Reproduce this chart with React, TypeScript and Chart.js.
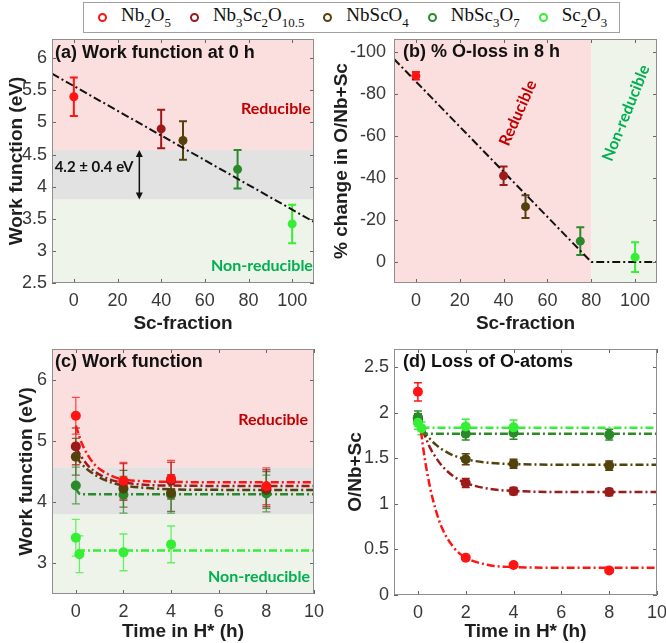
import React, { useEffect, useRef } from "react";
import { Chart, registerables } from "chart.js";
Chart.register(...registerables);

// ---------------- data ----------------
const legendParts: string[][] = [
  ["Nb", "2", "O", "5"],
  ["Nb", "3", "Sc", "2", "O", "10.5"],
  ["NbScO", "4"],
  ["NbSc", "3", "O", "7"],
  ["Sc", "2", "O", "3"],
];
const seriesColors = ["#ff1414", "#9c1a1a", "#52430c", "#2a8a2a", "#35ef35"];

// (a) work function at 0 h vs Sc-fraction
const scFraction = [0, 40, 50, 75, 100];
const workFn0h = [5.4, 4.9, 4.72, 4.27, 3.42];
const workFn0hErr = [0.3, 0.3, 0.3, 0.3, 0.3];
const trendAX = [-10, 110];
const trendAY = [5.76, 3.45];
const ticksAX = [0, 20, 40, 60, 80, 100];
const ticksAY = [2.5, 3, 3.5, 4, 4.5, 5, 5.5, 6];
const rangeAX = [-10, 110];
const rangeAY = [2.5, 6.3];

// (b) % O-loss in 8 h
const oLoss8h = [-88.5, -41, -26.3, -9.9, -2.3];
const oLoss8hErr = [1.8, 4.4, 5.4, 6.6, 7.1];
const trendBX = [-10, 80, 110];
const trendBY = [-96.5, 0, 0];
const ticksBY = [-100, -80, -60, -40, -20, 0];
const rangeBY = [-106, 10];
const reducibleLimitSc = 80;

// band of the 4.2 ± 0.4 eV window
const greyBand = [3.8, 4.57];

// (c) work function vs time
const hours = [0, 2, 4, 8];
const hoursSc2O3 = [0, 0.15, 2, 4];
const wfNb2O5 = [5.41, 4.35, 4.38, 4.26];
const wfNb3Sc2O105 = [4.91, 4.33, 4.35, 4.23];
const wfNbScO4 = [4.74, 4.22, 4.15, 4.2];
const wfNbSc3O7 = [4.27, 4.12, 4.12, 4.14];
const wfSc2O3 = [3.42, 3.15, 3.18, 3.31];
const wfErr = [0.3, 0.3, 0.3, 0.3];
const fitTimeC = [0, 0.25, 0.5, 0.75, 1, 1.5, 2, 3, 4, 6, 10];
const fitWfNb2O5 = [5.25, 4.96, 4.77, 4.63, 4.54, 4.43, 4.37, 4.34, 4.33, 4.325, 4.325];
const fitWfNb3Sc2O105 = [4.89, 4.73, 4.6, 4.51, 4.45, 4.36, 4.32, 4.28, 4.27, 4.265, 4.265];
const fitWfNbScO4 = [4.74, 4.62, 4.53, 4.46, 4.4, 4.32, 4.27, 4.23, 4.21, 4.2, 4.2];
const fitTimeNbSc3O7C = [0, 0.1, 0.2, 10];
const fitWfNbSc3O7 = [4.24, 4.16, 4.13, 4.13];
const fitTimeSc2O3C = [0.05, 10];
const fitWfSc2O3 = [3.21, 3.21];
const ticksCX = [0, 2, 4, 6, 8, 10];
const ticksCY = [3, 4, 5, 6];
const rangeCX = [-1, 10];
const rangeCY = [2.5, 6.5];

// (d) O/Nb+Sc vs time
const oNb2O5 = [2.23, 0.41, 0.33, 0.27];
const oNb2O5Err = [0.1, 0.02, 0.02, 0.02];
const oNb3Sc2O105 = [1.92, 1.23, 1.14, 1.13];
const oNb3Sc2O105Err = [0.05, 0.05, 0.04, 0.04];
const oNbScO4 = [1.94, 1.49, 1.44, 1.42];
const oNbScO4Err = [0.05, 0.06, 0.05, 0.05];
const oNbSc3O7 = [1.95, 1.77, 1.78, 1.76];
const oNbSc3O7Err = [0.07, 0.07, 0.07, 0.06];
const oSc2O3 = [1.89, 1.83, 1.85, 1.84];
const oSc2O3Err = [0.07, 0.07, 0.08, 0.08];
const fitTimeRedD = [0.05, 0.25, 0.5, 0.75, 1, 1.5, 2, 3, 4, 6, 10];
const fitONb2O5 = [1.97, 1.56, 1.19, 0.93, 0.74, 0.52, 0.41, 0.327, 0.307, 0.3, 0.3];
const fitTimeD = [0.2, 0.5, 0.75, 1, 1.5, 2, 3, 4, 6, 10];
const fitONb3Sc2O105 = [1.81, 1.62, 1.51, 1.42, 1.3, 1.23, 1.165, 1.142, 1.131, 1.13];
const fitONbScO4 = [1.82, 1.715, 1.65, 1.6, 1.53, 1.49, 1.45, 1.437, 1.43, 1.43];
const fitTimeNbSc3O7D = [0.15, 0.3, 10];
const fitONbSc3O7 = [1.81, 1.77, 1.77];
const fitTimeSc2O3D = [0.15, 10];
const fitOSc2O3 = [1.835, 1.835];
const ticksDY = [0, 0.5, 1, 1.5, 2, 2.5];
const rangeDY = [0, 2.7];

// ---------------- styling ----------------
const SANS = '"Liberation Sans", Arial, sans-serif';
const PINK = "#fbdede";
const GREY = "#e2e2e2";
const LGREEN = "#eef4e9";
const RED_TXT = "#c00000";
const GRN_TXT = "#00b050";
const DASH = [8, 3, 2, 3];

const pts = (xs: number[], ys: number[]) => xs.map((x, i) => ({ x, y: ys[i] }));
const alpha = (hex: string, a: string) => hex + a;

function axis(o: any) {
  return {
    type: "linear",
    min: o.min,
    max: o.max,
    reverse: !!o.reverse,
    afterBuildTicks: (s: any) => {
      s.ticks = o.ticks.map((v: number) => ({ value: v }));
    },
    afterFit: (s: any) => {
      if (o.isX) s.height = o.size;
      else s.width = o.size;
      s.paddingLeft = 0;
      s.paddingRight = 0;
      s.paddingTop = 0;
      s.paddingBottom = 0;
    },
    grid: { display: false, drawTicks: false },
    border: { display: false },
    ticks: {
      font: { family: SANS, size: 18 },
      color: "#383838",
      padding: o.tickPad,
      autoSkip: false,
      maxRotation: 0,
      minRotation: 0,
      callback: (v: any) => String(v),
    },
    title: {
      display: true,
      text: o.title,
      font: { family: SANS, size: 19, weight: "bold" },
      color: "#1e1e1e",
      padding: o.isX ? { top: 0, bottom: o.titlePad } : { top: o.titlePad, bottom: 0 },
    },
  };
}

function deco(cfg: any) {
  return {
    id: "deco",
    beforeDraw(chart: any) {
      const { ctx, chartArea: ca, scales } = chart;
      ctx.save();
      ctx.beginPath();
      ctx.rect(ca.left, ca.top, ca.width, ca.height);
      ctx.clip();
      ctx.fillStyle = "#ffffff";
      ctx.fillRect(ca.left, ca.top, ca.width, ca.height);
      for (const b of cfg.bands || []) {
        const s = scales[b.axis];
        const p1 = s.getPixelForValue(b.from);
        const p2 = s.getPixelForValue(b.to);
        ctx.fillStyle = b.color;
        if (b.axis === "y") ctx.fillRect(ca.left, Math.min(p1, p2), ca.width, Math.abs(p2 - p1));
        else ctx.fillRect(Math.min(p1, p2), ca.top, Math.abs(p2 - p1), ca.height);
      }
      ctx.restore();
    },
    beforeDatasetsDraw(chart: any) {
      const { ctx, scales } = chart;
      const ys = scales.y;
      chart.data.datasets.forEach((ds: any, di: number) => {
        if (!ds.errors) return;
        const meta = chart.getDatasetMeta(di);
        meta.data.forEach((el: any, i: number) => {
          const v = ds.data[i].y;
          const e = ds.errors[i];
          const yT = ys.getPixelForValue(v + e);
          const yB = ys.getPixelForValue(v - e);
          const c = Array.isArray(ds.errColor) ? ds.errColor[i] : ds.errColor;
          ctx.save();
          ctx.strokeStyle = c;
          ctx.lineWidth = ds.errWidth;
          ctx.beginPath();
          ctx.moveTo(el.x, yT);
          ctx.lineTo(el.x, yB);
          ctx.moveTo(el.x - ds.capHalf, yT);
          ctx.lineTo(el.x + ds.capHalf, yT);
          ctx.moveTo(el.x - ds.capHalf, yB);
          ctx.lineTo(el.x + ds.capHalf, yB);
          ctx.stroke();
          ctx.restore();
        });
      });
    },
    afterDraw(chart: any) {
      const { ctx, chartArea: ca, scales } = chart;
      ctx.save();
      // inner tick marks
      ctx.strokeStyle = "#666";
      ctx.lineWidth = 1;
      ctx.beginPath();
      for (const t of scales.x.ticks) {
        const px = Math.round(scales.x.getPixelForValue(t.value)) + 0.5;
        ctx.moveTo(px, ca.bottom);
        ctx.lineTo(px, ca.bottom - 4);
        ctx.moveTo(px, ca.top);
        ctx.lineTo(px, ca.top + 4);
      }
      for (const t of scales.y.ticks) {
        const py = Math.round(scales.y.getPixelForValue(t.value)) + 0.5;
        ctx.moveTo(ca.left, py);
        ctx.lineTo(ca.left + 4, py);
        ctx.moveTo(ca.right, py);
        ctx.lineTo(ca.right - 4, py);
      }
      ctx.stroke();
      // box
      ctx.strokeStyle = "#8e8e8e";
      ctx.strokeRect(Math.round(ca.left) + 0.5, Math.round(ca.top) + 0.5, Math.round(ca.width) - 1, Math.round(ca.height) - 1);
      // arrow
      if (cfg.arrow) {
        const a = cfg.arrow;
        const x = scales.x.getPixelForValue(a.x);
        const y1 = scales.y.getPixelForValue(a.from);
        const y2 = scales.y.getPixelForValue(a.to);
        ctx.strokeStyle = "#111";
        ctx.fillStyle = "#111";
        ctx.lineWidth = 1.5;
        ctx.beginPath();
        ctx.moveTo(x, y1 - 5);
        ctx.lineTo(x, y2 + 5);
        ctx.stroke();
        ctx.beginPath();
        ctx.moveTo(x, y2);
        ctx.lineTo(x - 3.5, y2 + 7);
        ctx.lineTo(x + 3.5, y2 + 7);
        ctx.closePath();
        ctx.fill();
        ctx.beginPath();
        ctx.moveTo(x, y1);
        ctx.lineTo(x - 3.5, y1 - 7);
        ctx.lineTo(x + 3.5, y1 - 7);
        ctx.closePath();
        ctx.fill();
      }
      // annotations
      for (const t of cfg.texts || []) {
        const x = scales.x.getPixelForValue(t.x);
        const y = scales.y.getPixelForValue(t.y);
        ctx.save();
        ctx.translate(x, y);
        if (t.rotate) ctx.rotate((t.rotate * Math.PI) / 180);
        ctx.font = t.font || "bold 16px Lato";
        ctx.fillStyle = t.color;
        ctx.textAlign = t.align || "center";
        ctx.textBaseline = "middle";
        ctx.fillText(t.text, 0, 0);
        ctx.restore();
      }
      // panel title
      ctx.font = `bold 18px ${SANS}`;
      ctx.fillStyle = "#111";
      ctx.textAlign = "left";
      ctx.textBaseline = "middle";
      ctx.fillText(cfg.title, ca.left + cfg.titleDx, ca.top + cfg.titleDy);
      ctx.restore();
    },
  };
}

function baseOptions(x: any, y: any) {
  return {
    animation: false,
    responsive: false,
    maintainAspectRatio: false,
    layout: { padding: { top: 16, right: 16, left: 0, bottom: 0 } },
    plugins: { legend: { display: false }, tooltip: { enabled: false }, title: { display: false } },
    scales: { x: axis({ ...x, isX: true }), y: axis({ ...y, isX: false }) },
  };
}

function pointSet(xs: number[], ys: number[], errs: number[], color: any, errColor: any, r: number, errWidth: number) {
  return {
    type: "line",
    data: pts(xs, ys),
    showLine: false,
    pointRadius: r,
    pointHoverRadius: r,
    pointBackgroundColor: color,
    pointBorderColor: color,
    pointBorderWidth: 0,
    errors: errs,
    errColor,
    errWidth,
    capHalf: 4,
  };
}

function fitSet(xs: number[], ys: number[], color: string, width: number, smooth: boolean) {
  return {
    type: "line",
    data: pts(xs, ys),
    borderColor: color,
    borderWidth: width,
    borderDash: DASH,
    pointRadius: 0,
    fill: false,
    cubicInterpolationMode: smooth ? "monotone" : "default",
    tension: 0,
  };
}

const [cNb2O5, cNb3, cNbScO4, cNbSc3O7, cSc2O3] = seriesColors;

const buildA = () => ({
  type: "line",
  data: {
    datasets: [
      pointSet(scFraction, workFn0h, workFn0hErr, seriesColors, seriesColors, 4.5, 2),
      fitSet(trendAX, trendAY, "#111111", 2, false),
    ],
  },
  options: baseOptions(
    { min: rangeAX[0], max: rangeAX[1], ticks: ticksAX, size: 57, title: "Sc-fraction", titlePad: 5, tickPad: 7 },
    { min: rangeAY[0], max: rangeAY[1], ticks: ticksAY, size: 52, title: "Work function (eV)", titlePad: 5, tickPad: 5 }
  ),
  plugins: [
    deco({
      bands: [
        { axis: "y", from: rangeAY[0], to: greyBand[0], color: LGREEN },
        { axis: "y", from: greyBand[0], to: greyBand[1], color: GREY },
        { axis: "y", from: greyBand[1], to: rangeAY[1], color: PINK },
      ],
      arrow: { x: 30, from: greyBand[0], to: greyBand[1] },
      texts: [
        { x: 108.5, y: 5.21, text: "Reducible", color: RED_TXT, align: "right" },
        { x: 109.5, y: 2.76, text: "Non-reducible", color: GRN_TXT, align: "right" },
        { x: 27.3, y: 4.3, text: "4.2 ± 0.4 eV", color: "#111", align: "right", font: "bold 15px Lato" },
      ],
      title: "(a) Work function at 0 h",
      titleDx: 3,
      titleDy: 14,
    }),
  ],
});

const buildB = () => ({
  type: "line",
  data: {
    datasets: [
      pointSet(scFraction, oLoss8h, oLoss8hErr, seriesColors, seriesColors, 4.5, 2),
      fitSet(trendBX, trendBY, "#111111", 2, false),
    ],
  },
  options: baseOptions(
    { min: rangeAX[0], max: rangeAX[1], ticks: ticksAX, size: 57, title: "Sc-fraction", titlePad: 5, tickPad: 7 },
    { min: rangeBY[0], max: rangeBY[1], ticks: ticksBY, size: 68, title: "% change in O/Nb+Sc", titlePad: 4, tickPad: 8, reverse: true }
  ),
  plugins: [
    deco({
      bands: [
        { axis: "x", from: rangeAX[0], to: reducibleLimitSc, color: PINK },
        { axis: "x", from: reducibleLimitSc, to: rangeAX[1], color: LGREEN },
      ],
      texts: [
        { x: 46.6, y: -70.8, text: "Reducible", color: RED_TXT, rotate: -66 },
        { x: 95.9, y: -70.8, text: "Non-reducible", color: GRN_TXT, rotate: -68 },
      ],
      title: "(b) % O-loss in 8 h",
      titleDx: 9,
      titleDy: 13,
    }),
  ],
});

const buildC = () => ({
  type: "line",
  data: {
    datasets: [
      pointSet(hours, wfNb2O5, wfErr, cNb2O5, alpha(cNb2O5, "bb"), 5, 1.3),
      pointSet(hours, wfNb3Sc2O105, wfErr, cNb3, alpha(cNb3, "bb"), 5, 1.3),
      pointSet(hours, wfNbScO4, wfErr, cNbScO4, alpha(cNbScO4, "bb"), 5, 1.3),
      pointSet(hours, wfNbSc3O7, wfErr, cNbSc3O7, alpha(cNbSc3O7, "bb"), 5, 1.3),
      pointSet(hoursSc2O3, wfSc2O3, wfErr, cSc2O3, alpha(cSc2O3, "bb"), 5, 1.3),
      fitSet(fitTimeC, fitWfNb2O5, cNb2O5, 2.5, true),
      fitSet(fitTimeC, fitWfNb3Sc2O105, cNb3, 2.5, true),
      fitSet(fitTimeC, fitWfNbScO4, cNbScO4, 2.5, true),
      fitSet(fitTimeNbSc3O7C, fitWfNbSc3O7, cNbSc3O7, 2.5, true),
      fitSet(fitTimeSc2O3C, fitWfSc2O3, cSc2O3, 2.5, true),
    ],
  },
  options: baseOptions(
    { min: rangeCX[0], max: rangeCX[1], ticks: ticksCX, size: 49, title: "Time in H* (h)", titlePad: 0, tickPad: 7 },
    { min: rangeCY[0], max: rangeCY[1], ticks: ticksCY, size: 52, title: "Work function (eV)", titlePad: 15, tickPad: 5 }
  ),
  plugins: [
    deco({
      bands: [
        { axis: "y", from: rangeCY[0], to: greyBand[0], color: LGREEN },
        { axis: "y", from: greyBand[0], to: greyBand[1], color: GREY },
        { axis: "y", from: greyBand[1], to: rangeCY[1], color: PINK },
      ],
      texts: [
        { x: 9.75, y: 5.35, text: "Reducible", color: RED_TXT, align: "right" },
        { x: 9.83, y: 2.78, text: "Non-reducible", color: GRN_TXT, align: "right" },
      ],
      title: "(c) Work function",
      titleDx: 3,
      titleDy: 13,
    }),
  ],
});

const buildD = () => ({
  type: "line",
  data: {
    datasets: [
      pointSet(hoursSc2O3, oSc2O3, oSc2O3Err, cSc2O3, cSc2O3, 5, 1.5),
      pointSet(hours, oNbSc3O7, oNbSc3O7Err, cNbSc3O7, cNbSc3O7, 5, 1.5),
      pointSet(hours, oNbScO4, oNbScO4Err, cNbScO4, cNbScO4, 5, 1.5),
      pointSet(hours, oNb3Sc2O105, oNb3Sc2O105Err, cNb3, cNb3, 5, 1.5),
      pointSet(hours, oNb2O5, oNb2O5Err, cNb2O5, cNb2O5, 5, 1.5),
      fitSet(fitTimeSc2O3D, fitOSc2O3, cSc2O3, 2.5, true),
      fitSet(fitTimeNbSc3O7D, fitONbSc3O7, cNbSc3O7, 2.5, true),
      fitSet(fitTimeD, fitONbScO4, cNbScO4, 2.5, true),
      fitSet(fitTimeD, fitONb3Sc2O105, cNb3, 2.5, true),
      fitSet(fitTimeRedD, fitONb2O5, cNb2O5, 2.5, true),
    ],
  },
  options: baseOptions(
    { min: rangeCX[0], max: rangeCX[1], ticks: ticksCX, size: 48, title: "Time in H* (h)", titlePad: 0, tickPad: 7 },
    { min: rangeDY[0], max: rangeDY[1], ticks: ticksDY, size: 68, title: "O/Nb+Sc", titlePad: 18, tickPad: 5 }
  ),
  plugins: [
    deco({
      bands: [],
      texts: [],
      title: "(d) Loss of O-atoms",
      titleDx: 9,
      titleDy: 13,
    }),
  ],
});

function Panel({ left, top, width, height, build }: any) {
  const ref = useRef<HTMLCanvasElement>(null);
  useEffect(() => {
    const chart = new Chart(ref.current as HTMLCanvasElement, build());
    return () => chart.destroy();
  }, []);
  return (
    <canvas
      ref={ref}
      width={width}
      height={height}
      style={{ position: "absolute", left, top, width, height }}
    />
  );
}

function Legend() {
  return (
    <div
      style={{
        position: "absolute",
        left: 83,
        top: 2,
        width: 537,
        height: 31,
        boxSizing: "border-box",
        border: "1px solid #a0a0a0",
        background: "#fff",
        display: "flex",
        alignItems: "center",
        paddingLeft: 14,
        fontFamily: '"Liberation Serif", "Times New Roman", serif',
        fontSize: 19,
        color: "#111",
        zIndex: 2,
      }}
    >
      {legendParts.map((parts, i) => (
        <div key={i} style={{ display: "flex", alignItems: "center", whiteSpace: "nowrap", marginRight: 19 }}>
          <span
            style={{
              display: "inline-block",
              width: 5,
              height: 5,
              border: `2.5px solid ${seriesColors[i]}`,
              borderRadius: "50%",
              marginRight: 14,
            }}
          />
          <span style={{ lineHeight: 1, position: "relative", top: -3 }}>
            {parts.map((p, j) =>
              j % 2 === 1 ? (
                <span key={j} style={{ fontSize: "0.68em", position: "relative", top: "0.45em" }}>
                  {p}
                </span>
              ) : (
                <span key={j}>{p}</span>
              )
            )}
          </span>
        </div>
      ))}
    </div>
  );
}

export default function App() {
  return (
    <div style={{ position: "absolute", left: 0, top: 0, width: 666, height: 643, overflow: "hidden", background: "#fff" }}>
      <Panel left={0} top={23} width={330} height={317} build={buildA} />
      <Panel left={326} top={23} width={347} height={317} build={buildB} />
      <Panel left={0} top={333} width={330} height={310} build={buildC} />
      <Panel left={326} top={333} width={347} height={310} build={buildD} />
      <Legend />
    </div>
  );
}
